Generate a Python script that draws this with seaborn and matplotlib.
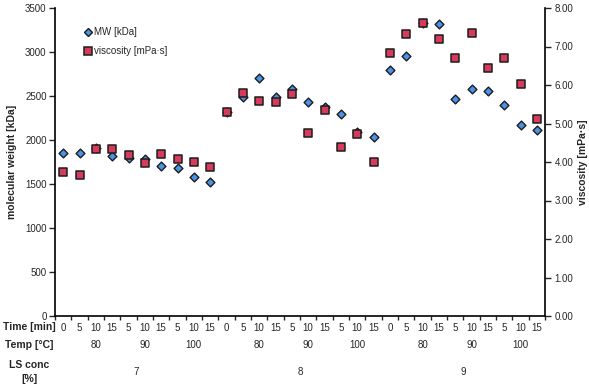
import numpy as np
import pandas as pd
import matplotlib
matplotlib.use("Agg")
import matplotlib.pyplot as plt
import matplotlib.transforms as mtransforms
from matplotlib.lines import Line2D
import seaborn as sns

sns.set_style("white")
plt.rcParams['font.family'] = ['Liberation Sans', 'DejaVu Sans']

# categories: time within temperature within LS concentration
time_labels = ['0', '5', '10', '15', '5', '10', '15', '5', '10', '15'] * 3
temp_labels = ['80', '90', '100']
conc_labels = ['7', '8', '9']

# molecular weight [kDa]
mw = [1850, 1850, 1910, 1815, 1790, 1785, 1710, 1680, 1585, 1520,
      2320, 2485, 2700, 2490, 2580, 2430, 2370, 2290, 2090, 2030,
      2795, 2960, 3330, 3320, 2465, 2585, 2555, 2400, 2175, 2115]

# viscosity [mPa·s]
visc = [3.74, 3.66, 4.35, 4.33, 4.18, 3.97, 4.20, 4.07, 4.00, 3.87,
        5.31, 5.78, 5.59, 5.57, 5.77, 4.75, 5.35, 4.40, 4.73, 4.00,
        6.84, 7.32, 7.62, 7.20, 6.69, 7.35, 6.43, 6.70, 6.02, 5.12]

df = pd.DataFrame({'pos': np.arange(len(mw)), 'mw': mw, 'visc': visc})

blue = '#4a93e6'
red = '#d63a5c'
edge = '#1c1c1c'

fig = plt.figure(figsize=(5.89, 3.85), dpi=100)
ax = fig.add_axes([55 / 589, 69 / 385, 490 / 589, 308 / 385])
ax2 = ax.twinx()

sns.scatterplot(data=df, x='pos', y='mw', ax=ax, marker='D', s=20,
                color=blue, edgecolor=edge, linewidth=1.0, zorder=3)
sns.scatterplot(data=df, x='pos', y='visc', ax=ax2, marker='s', s=28,
                color=red, edgecolor=edge, linewidth=1.1, zorder=3)

ax.set_xlim(-0.5, len(mw) - 0.5)
ax.set_ylim(0, 3500)
ax2.set_ylim(0, 8)
ax.set_yticks(np.arange(0, 3501, 500))
ax2.set_yticks(np.arange(0, 8.01, 1))
ax2.set_yticklabels([f'{v:.2f}' for v in np.arange(0, 8.01, 1)])

for a in (ax, ax2):
    a.spines['top'].set_visible(False)
    for s in a.spines.values():
        s.set_color('black')
        s.set_linewidth(1.2)
    a.set_xlabel('')
    a.grid(False)

ax.spines['right'].set_visible(False)
ax2.spines['left'].set_visible(False)
ax2.spines['bottom'].set_visible(False)

ax.tick_params(axis='y', direction='out', length=4, width=1, labelsize=7, pad=2, left=True)
ax2.tick_params(axis='y', direction='out', length=4, width=1, labelsize=7, pad=3, right=True)

# time labels under each category, tick marks at category boundaries
ax.set_xticks(df['pos'])
ax.set_xticklabels(time_labels)
ax.set_xticks(np.arange(-0.5, len(mw), 1), minor=True)
ax.tick_params(axis='x', which='major', length=0, labelsize=7, pad=5)
ax.tick_params(axis='x', which='minor', direction='out', length=3, width=1, bottom=True)

ax.set_ylabel('molecular weight [kDa]', fontsize=7.5, fontweight='bold', labelpad=6)
ax2.set_ylabel('viscosity [mPa·s]', fontsize=7.5, fontweight='bold', labelpad=3)

# second and third category levels
trans = mtransforms.blended_transform_factory(ax.transData, fig.transFigure)
for g, conc in enumerate(conc_labels):
    for k, temp in enumerate(temp_labels):
        ax.text(g * 10 + 2 + 3 * k, 1 - 345 / 385, temp, transform=trans,
                ha='center', va='center', fontsize=7)
    ax.text(g * 10 + 4.5, 1 - 372 / 385, conc, transform=trans,
            ha='center', va='center', fontsize=7)

fig.text(29 / 589, 1 - 327 / 385, 'Time [min]', ha='center', va='center',
         fontsize=7.5, fontweight='bold')
fig.text(29 / 589, 1 - 345 / 385, 'Temp [°C]', ha='center', va='center',
         fontsize=7.5, fontweight='bold')
fig.text(29 / 589, 1 - 372 / 385, 'LS conc\n[%]', ha='center', va='center',
         fontsize=7.5, fontweight='bold', linespacing=1.6)

handles = [
    Line2D([], [], marker='D', linestyle='', markersize=4.5, markerfacecolor=blue,
           markeredgecolor=edge, markeredgewidth=1.0, label='MW [kDa]'),
    Line2D([], [], marker='s', linestyle='', markersize=5.3, markerfacecolor=red,
           markeredgecolor=edge, markeredgewidth=1.1, label='viscosity [mPa·s]'),
]
ax2.legend(handles=handles, loc='upper left', bbox_to_anchor=(0.055, 0.95),
           frameon=False, fontsize=7, handlelength=0.5, handletextpad=0.35,
           labelspacing=0.9, borderaxespad=0)

fig.savefig('out.png', dpi=100)
